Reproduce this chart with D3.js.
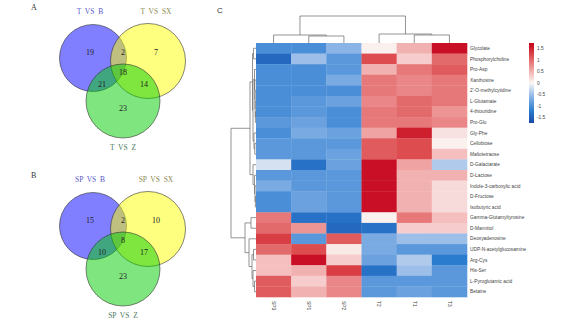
<!DOCTYPE html>
<html lang="en">
<head>
<meta charset="UTF-8">
<title>Venn + heatmap</title>
<script src="https://d3js.org/d3.v7.min.js"></script>
<style>
  body { margin: 0; background: #fff; }
</style>
</head>
<body>
<svg width="566" height="324"></svg>
<script>
// ---- data ----
var vennTitlesA = ["T VS B", "T VS SX", "T VS Z"];
var vennCountsA = [19, 2, 7, 18, 21, 14, 23];     // B only, B&SX, SX only, all, B&Z, SX&Z, Z only
var vennTitlesB = ["SP VS B", "SP VS SX", "SP VS Z"];
var vennCountsB = [15, 2, 10, 8, 10, 17, 23];

var samples = ["SP3", "SP1", "SP2", "T2", "T1", "T3"];
var metabolites = ["Glycolate", "Phosphorylcholine", "Pro-Asp", "Xanthosine", "2'-O-methylcytidine",
  "L-Glutamate", "4-thiouridine", "Pro-Glu", "Gly-Phe", "Cellobiose", "Maltotetraose",
  "D-Galactarate", "D-Lactose", "Indole-3-carboxylic acid", "D-Fructose", "Isobutyric acid",
  "Gamma-Glutamyltyrosine", "D-Mannitol", "Deoxyadenosine", "UDP-N-acetylglucosamine",
  "Arg-Cys", "His-Ser", "L-Pyroglutamic acid", "Betaine"];
var zscores = [
  [-1.0, -1.0, -0.6,  0.05, 0.5,  1.6],
  [-1.4, -0.5, -0.9,  1.2,  0.3,  1.0],
  [-1.0, -1.0, -0.9,  0.5,  0.9,  1.1],
  [-1.0, -1.0, -0.7,  0.9,  0.8,  0.9],
  [-1.0, -1.0, -1.0,  0.9,  0.8,  0.9],
  [-1.0, -0.9, -0.8,  0.8,  1.0,  0.9],
  [-1.0, -0.9, -1.0,  0.9,  1.0,  0.7],
  [-0.9, -0.8, -1.0,  0.9,  0.9,  0.8],
  [-1.0, -0.7, -0.8,  0.6,  1.5,  0.15],
  [-0.9, -0.9, -0.9,  1.1,  1.2,  0.05],
  [-0.9, -0.9, -0.8,  1.1,  1.2,  0.4],
  [-0.2, -1.3, -0.8,  1.6,  0.6, -0.4],
  [-0.9, -0.9, -0.9,  1.6,  0.5,  0.5],
  [-0.7, -0.9, -0.9,  1.6,  0.5,  0.2],
  [-1.0, -0.8, -0.9,  1.6,  0.5,  0.2],
  [-1.0, -0.8, -0.9,  1.6,  0.5,  0.2],
  [ 0.9, -1.3, -1.3,  0.05, 0.9,  0.4],
  [ 1.0,  0.7, -1.4, -1.3,  0.3,  0.3],
  [ 1.3, -0.9,  1.1, -0.7, -0.5, -0.5],
  [ 1.0,  1.2,  0.1, -0.7, -0.9, -0.9],
  [ 0.4,  1.6,  0.3, -0.8, -0.4, -1.2],
  [ 0.4,  0.5,  1.3, -1.3, -0.5, -0.9],
  [ 1.1,  0.3,  0.8, -0.9, -0.9, -0.9],
  [ 1.1,  0.5,  0.8, -0.9, -0.8, -0.9]
];
var legendTicks = [1.5, 1, 0.5, 0, -0.5, -1, -1.5];

// dendrograms: {h: merge height, c: [children]} or leaf index
var rowTree = {h: 25, c: [
  {h: 6, c: [
    {h: 3.5, c: [
      {h: 2.5, c: [0, 1]},
      {h: 3, c: [
        {h: 1.5, c: [2, {h: 1.2, c: [3, {h: 1, c: [4, {h: 0.8, c: [5, {h: 0.6, c: [6, 7]}]}]}]}]},
        {h: 2, c: [8, {h: 1.2, c: [9, 10]}]}
      ]}
    ]},
    {h: 3, c: [11, {h: 1.5, c: [12, {h: 1, c: [13, {h: 0.6, c: [14, 15]}]}]}]}
  ]},
  {h: 11, c: [
    {h: 5, c: [16, 17]},
    {h: 7, c: [18, {h: 4, c: [
      {h: 2.5, c: [19, 20]},
      {h: 3, c: [21, {h: 1.5, c: [22, 23]}]}
    ]}]}
  ]}
]};
var colTree = {h: 27, c: [
  {h: 8, c: [0, {h: 7, c: [1, 2]}]},
  {h: 9, c: [3, {h: 8, c: [4, 5]}]}
]};

var svg = d3.select("svg");
svg.append("rect").attr("width", 566).attr("height", 324).attr("fill", "#fff");

// ---- venn diagrams ----
function drawVenn(oy, letter, titles, counts) {
  var g = svg.append("g").attr("transform", "translate(0," + oy + ")");
  var circles = [
    {cx: 93, cy: 58, r: 33.5, fill: "#0000ff"},
    {cx: 148, cy: 61, r: 37.5, fill: "#ffff00"},
    {cx: 123, cy: 101, r: 37, fill: "#00cd00"}
  ];
  g.selectAll("circle").data(circles).enter().append("circle")
    .attr("cx", function (d) { return d.cx; })
    .attr("cy", function (d) { return d.cy; })
    .attr("r", function (d) { return d.r; })
    .attr("fill", function (d) { return d.fill; })
    .attr("fill-opacity", 0.5)
    .attr("stroke", "#333")
    .attr("stroke-width", 0.6);

  g.append("text").attr("x", 31).attr("y", 10).text(letter)
    .attr("font-family", "Liberation Serif").attr("font-size", 8).attr("fill", "#333");

  var tpos = [[90, 14, "#5858c8"], [156, 14, "#8a8a50"], [123, 150, "#4a7a5e"]];
  g.selectAll(".ttl").data(titles).enter().append("text")
    .attr("x", function (d, i) { return tpos[i][0]; })
    .attr("y", function (d, i) { return tpos[i][1]; })
    .attr("fill", function (d, i) { return tpos[i][2]; })
    .attr("text-anchor", "middle")
    .attr("font-family", "Liberation Serif").attr("font-size", 7.5)
    .attr("xml:space", "preserve")
    .text(function (d) { return d.replace(/ /g, "  "); });

  var npos = [[90, 52], [123, 52], [156, 52], [123, 72], [102, 84], [144, 84], [123, 108]];
  g.selectAll(".num").data(counts).enter().append("text")
    .attr("x", function (d, i) { return npos[i][0]; })
    .attr("y", function (d, i) { return npos[i][1]; })
    .attr("text-anchor", "middle").attr("dy", "0.35em")
    .attr("font-family", "Liberation Serif").attr("font-size", 8).attr("fill", "#222")
    .text(function (d) { return d; });
}
drawVenn(0, "A", vennTitlesA, vennCountsA);
drawVenn(168, "B", vennTitlesB, vennCountsB);

// ---- heatmap ----
var x = d3.scaleBand().domain(d3.range(samples.length)).range([256, 467]);
var y = d3.scaleBand().domain(d3.range(metabolites.length)).range([43, 297]);
var color = d3.scaleLinear()
  .domain([-1.7, -1.2, -0.6, 0, 0.6, 1.2, 1.7])
  .range(["#1a4ca6", "#2a7ccf", "#8ab3e6", "#fbf7f5", "#f0a3a3", "#dd4d4f", "#c4001a"]);

svg.append("text").attr("x", 217).attr("y", 13).text("C")
  .attr("font-family", "Liberation Sans").attr("font-size", 8).attr("fill", "#333");

var cells = [];
zscores.forEach(function (row, i) {
  row.forEach(function (v, j) { cells.push({i: i, j: j, v: v}); });
});
svg.append("g").selectAll("rect").data(cells).enter().append("rect")
  .attr("x", function (d) { return x(d.j); })
  .attr("y", function (d) { return y(d.i); })
  .attr("width", x.bandwidth() + 0.3)
  .attr("height", y.bandwidth() + 0.3)
  .attr("fill", function (d) { return color(d.v); });

svg.append("g").selectAll("text").data(metabolites).enter().append("text")
  .attr("x", 470)
  .attr("y", function (d, i) { return y(i) + y.bandwidth() / 2; })
  .attr("dy", "0.35em")
  .attr("font-family", "Liberation Sans").attr("font-size", 4.8).attr("fill", "#444")
  .text(function (d) { return d; });

svg.append("g").selectAll("text").data(samples).enter().append("text")
  .attr("transform", function (d, i) {
    return "translate(" + (x(i) + x.bandwidth() / 2) + ",301) rotate(90)";
  })
  .attr("dy", "0.35em")
  .attr("font-family", "Liberation Sans").attr("font-size", 4.8).attr("fill", "#444")
  .text(function (d) { return d; });

// ---- dendrograms ----
var dendro = svg.append("g").attr("stroke", "#666").attr("stroke-width", 0.7).attr("fill", "none");

function layout(node, pos) {
  if (typeof node === "number") return {p: pos(node), h: 0};
  var a = layout(node.c[0], pos), b = layout(node.c[1], pos);
  node.kids = [a, b];
  return {p: (a.p + b.p) / 2, h: node.h, node: node};
}

function drawTree(node, pos, hs, vertical) {
  var res = layout(node, pos);
  (function walk(r) {
    if (!r.node) return;
    var k = r.node.kids;
    var hp = hs(r.h);
    if (vertical) {
      // column tree: position along x, height along y
      dendro.append("path").attr("d",
        "M" + k[0].p + "," + hs(k[0].h) + "V" + hp + "H" + k[1].p + "V" + hs(k[1].h));
    } else {
      dendro.append("path").attr("d",
        "M" + hs(k[0].h) + "," + k[0].p + "H" + hp + "V" + k[1].p + "H" + hs(k[1].h));
    }
    walk(k[0]); walk(k[1]);
  })(res);
}

var rowH = d3.scaleLinear().domain([0, 25]).range([256, 231]);
drawTree(rowTree, function (i) { return y(i) + y.bandwidth() / 2; }, rowH, false);
var colH = d3.scaleLinear().domain([0, 27]).range([43, 16]);
drawTree(colTree, function (j) { return x(j) + x.bandwidth() / 2; }, colH, true);

// ---- colour key ----
var ky = d3.scaleLinear().domain([1.73, -1.73]).range([43, 123]);
var defs = svg.append("defs");
var grad = defs.append("linearGradient").attr("id", "key")
  .attr("x1", 0).attr("y1", 0).attr("x2", 0).attr("y2", 1);
d3.range(0, 1.0001, 0.05).forEach(function (t) {
  grad.append("stop").attr("offset", t).attr("stop-color", color(1.73 - t * 3.46));
});
svg.append("rect").attr("x", 529).attr("y", 43).attr("width", 5).attr("height", 80)
  .attr("fill", "url(#key)");
svg.append("g").selectAll("text").data(legendTicks).enter().append("text")
  .attr("x", 537)
  .attr("y", function (d) { return ky(d); })
  .attr("dy", "0.35em")
  .attr("font-family", "Liberation Sans").attr("font-size", 4.8).attr("fill", "#444")
  .text(function (d) { return d; });
</script>
</body>
</html>
